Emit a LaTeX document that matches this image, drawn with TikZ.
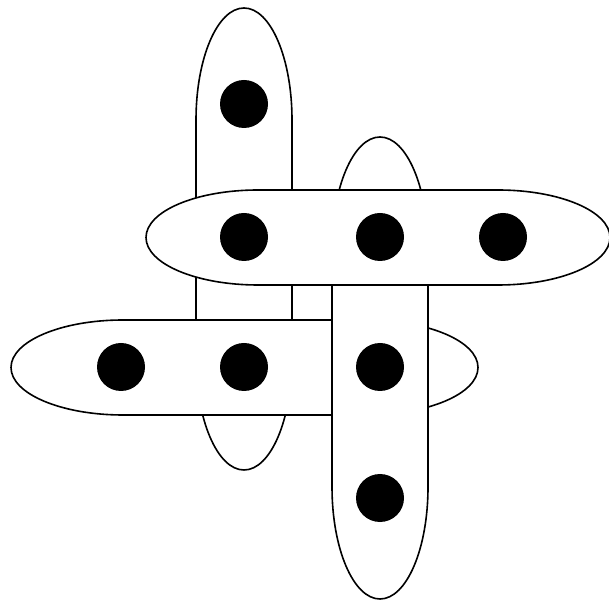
\documentclass[tikz,border=0pt]{standalone}
\begin{document}
\begin{tikzpicture}[x=1pt,y=1pt,
  edgeshape/.style={draw=black,fill=white,line width=1.6pt},
  vertexdot/.style={circle,fill=black,inner sep=0pt,minimum size=48pt}]
\useasboundingbox (0,0) rectangle (609,599);
% left vertical (behind everything)
\draw[edgeshape] (196,241) -- (196,479)
  arc[start angle=180,end angle=0,x radius=48,y radius=112] -- (292,241)
  arc[start angle=0,end angle=-180,x radius=48,y radius=112] -- cycle;
% bottom horizontal
\draw[edgeshape] (123,279) -- (366,279)
  arc[start angle=90,end angle=-90,x radius=112,y radius=47.5] -- (123,184)
  arc[start angle=270,end angle=90,x radius=112,y radius=47.5] -- cycle;
% right vertical
\draw[edgeshape] (332,112) -- (332,350)
  arc[start angle=180,end angle=0,x radius=48,y radius=112] -- (428,112)
  arc[start angle=0,end angle=-180,x radius=48,y radius=112] -- cycle;
% top horizontal
\draw[edgeshape] (258,409) -- (498,409)
  arc[start angle=90,end angle=-90,x radius=112,y radius=47.5] -- (258,314)
  arc[start angle=270,end angle=90,x radius=112,y radius=47.5] -- cycle;
% vertices
\node[vertexdot] (a) at (244,495) {};
\node[vertexdot] (b) at (244,362) {};
\node[vertexdot] (c) at (380,362) {};
\node[vertexdot] (d) at (503,362) {};
\node[vertexdot] (e) at (121,232) {};
\node[vertexdot] (f) at (244,232) {};
\node[vertexdot] (g) at (380,232) {};
\node[vertexdot] (h) at (380,101) {};
\end{tikzpicture}
\end{document}
